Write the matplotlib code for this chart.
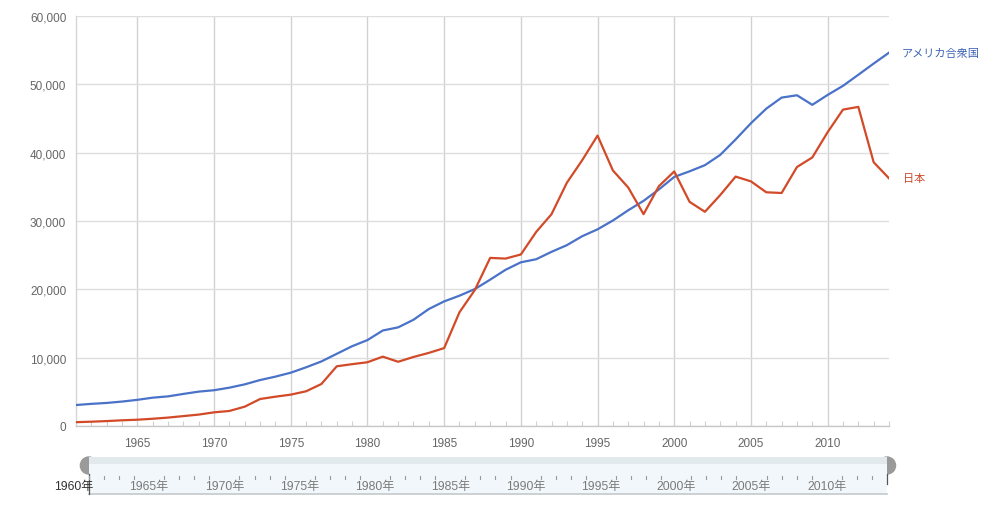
import matplotlib
matplotlib.use('Agg')
import matplotlib.pyplot as plt
from matplotlib.patches import Rectangle, Ellipse
from matplotlib.ticker import FuncFormatter, FixedLocator

plt.rcParams['font.family'] = ['Liberation Sans', 'Noto Sans CJK JP', 'DejaVu Sans']

# ---------------- data ----------------
years = list(range(1961, 2015))
us = [3070, 3240, 3375, 3575, 3830, 4145, 4335, 4695, 5030, 5235,
      5610, 6095, 6725, 7225, 7800, 8590, 9450, 10565, 11675, 12575,
      13975, 14435, 15545, 17120, 18235, 19070, 20040, 21415, 22855, 23955,
      24405, 25490, 26465, 27775, 28780, 30070, 31570, 32950, 34620, 36450,
      37270, 38170, 39680, 41930, 44310, 46440, 48060, 48400, 47000, 48450,
      49780, 51400, 53040, 54630]
japan = [560, 630, 720, 835, 920, 1060, 1230, 1450, 1670, 2000,
         2200, 2830, 3950, 4290, 4590, 5080, 6150, 8740, 9050, 9330,
         10150, 9400, 10100, 10700, 11400, 16650, 19900, 24600, 24500, 25100,
         28400, 31000, 35600, 38900, 42500, 37400, 34900, 31000, 35100, 37250,
         32800, 31350, 33800, 36500, 35800, 34200, 34100, 37900, 39300, 43000,
         46300, 46700, 38600, 36250]
series_names = ['アメリカ合衆国', '日本']
y_ticks = [0, 10000, 20000, 30000, 40000, 50000, 60000]
x_major = [1965, 1970, 1975, 1980, 1985, 1990, 1995, 2000, 2005, 2010]
slider_years = [1960, 1965, 1970, 1975, 1980, 1985, 1990, 1995, 2000, 2005, 2010]
slider_labels = ['1960年', '1965年', '1970年', '1975年', '1980年', '1985年',
                 '1990年', '1995年', '2000年', '2005年', '2010年']

US_COLOR = '#4a72c8'
JP_COLOR = '#d24a28'

W, H = 1000, 506
fig = plt.figure(figsize=(W / 100, H / 100), dpi=100)

# ---------------- main chart ----------------
ax = fig.add_axes([76 / W, 1 - 427 / H, (889 - 76) / W, (427 - 17) / H])
ax.set_xlim(1961, 2014)
ax.set_ylim(0, 60000)

ax.plot(years, us, color=US_COLOR, lw=1.6, solid_joinstyle='round', zorder=3)
ax.plot(years, japan, color=JP_COLOR, lw=1.6, solid_joinstyle='round', zorder=3)

ax.annotate(series_names[0], xy=(years[-1], us[-1]), xytext=(13, 0),
            textcoords='offset pixels', va='center', ha='left',
            color='#3e64b4', fontsize=8, annotation_clip=False,
            family=['Noto Sans CJK JP', 'DejaVu Sans'])
ax.annotate(series_names[1], xy=(years[-1], japan[-1]), xytext=(14, 0),
            textcoords='offset pixels', va='center', ha='left',
            color='#cc4a2a', fontsize=8, annotation_clip=False,
            family=['Noto Sans CJK JP', 'DejaVu Sans'])

ax.yaxis.set_major_locator(FixedLocator(y_ticks))
ax.yaxis.set_major_formatter(FuncFormatter(lambda v, p: f'{int(v):,}'))
ax.xaxis.set_major_locator(FixedLocator(x_major))
ax.xaxis.set_minor_locator(FixedLocator(years))
ax.xaxis.set_major_formatter(FuncFormatter(lambda v, p: f'{int(v)}'))

ax.grid(axis='y', color='#dedede', lw=1.0, zorder=0)
ax.grid(axis='x', which='major', color='#d2d2d2', lw=1.0, zorder=0)

ax.tick_params(axis='y', length=0, pad=7, labelsize=8.5, labelcolor='#666666')
ax.tick_params(axis='x', which='major', length=0, pad=8, labelsize=8.5,
               labelcolor='#666666')
ax.tick_params(axis='x', which='minor', direction='in', length=3.5, width=0.8,
               color='#d0d0d0')

for s in ['top', 'right']:
    ax.spines[s].set_visible(False)
ax.spines['left'].set_color('#d6d6d6')
ax.spines['bottom'].set_color('#c8c8c8')
ax.spines['left'].set_linewidth(1.0)
ax.spines['bottom'].set_linewidth(1.0)

# ---------------- range slider ----------------
px_per_year = 15.06
x0_px = 73.8  # pixel of 1960
left_px, right_px = 60, 900
sax = fig.add_axes([left_px / W, 1 - 500 / H, (right_px - left_px) / W, 45 / H])
sax.set_xlim(1960 + (left_px - x0_px) / px_per_year,
             1960 + (right_px - x0_px) / px_per_year)
sax.set_ylim(0, 45)
sax.axis('off')

bar_start, bar_end = years[0], years[-1]
hw = 17 / px_per_year
sax.add_patch(Ellipse((bar_start, 33.5), hw, 17, color='#9a9a9a', zorder=1))
sax.add_patch(Ellipse((bar_end, 33.5), hw, 17, color='#9a9a9a', zorder=1))
sax.add_patch(Rectangle((bar_start, 5), bar_end - bar_start, 37,
                        facecolor='#f1f7fa', edgecolor='none', zorder=2))
sax.add_patch(Rectangle((bar_start, 35), bar_end - bar_start, 7,
                        facecolor='#e2e9ed', edgecolor='none', zorder=2))
sax.plot([bar_start, bar_end], [5, 5], color='#c4c9cc', lw=1.2, zorder=3)
sax.plot([bar_start, bar_start], [5, 25], color='#555555', lw=0.9, zorder=3)
sax.plot([bar_end, bar_end], [15, 25], color='#555555', lw=0.9, zorder=3)

tick_years = [y for y in range(1961, 2014) if y % 5 != 0]
for y in tick_years:
    sax.plot([y, y], [20, 23], color='#9a9a9a', lw=0.8, zorder=3)

for yr, lab in zip(slider_years, slider_labels):
    sax.text(yr, 13, lab, ha='center', va='center', fontsize=8.7,
             color='#333333' if yr == 1960 else '#7a7a7a', zorder=4,
             family=['Liberation Sans', 'Noto Sans CJK JP', 'DejaVu Sans'])

fig.savefig('out.png', dpi=100)
